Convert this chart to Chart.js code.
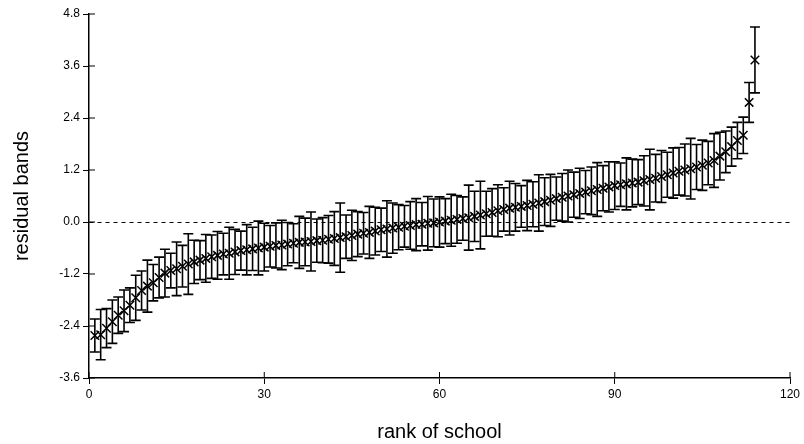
<!DOCTYPE html>
<html>
<head>
<meta charset="utf-8">
<script src="https://cdn.jsdelivr.net/npm/chart.js@4.4.1/dist/chart.umd.min.js"></script>
<style>
  body { margin: 0; background: #fff; }
</style>
</head>
<body>
<canvas id="grafico" width="804" height="444"></canvas>
<script>
// residual estimate per school, ordered by rank
const residuos = [
  -2.62, -2.60, -2.45, -2.30, -2.15, -2.05, -1.92, -1.75, -1.58, -1.48,
  -1.40, -1.28, -1.18, -1.12, -1.08, -1.02, -0.97, -0.92, -0.88, -0.84,
  -0.80, -0.77, -0.74, -0.72, -0.69, -0.66, -0.64, -0.62, -0.60, -0.58,
  -0.56, -0.54, -0.53, -0.51, -0.49, -0.47, -0.46, -0.45, -0.43, -0.42,
  -0.40, -0.38, -0.36, -0.34, -0.31, -0.28, -0.26, -0.24, -0.21, -0.18,
  -0.16, -0.14, -0.12, -0.10, -0.08, -0.06, -0.05, -0.03, -0.02, 0.00,
  0.02, 0.04, 0.06, 0.08, 0.10, 0.13, 0.16, 0.19, 0.22, 0.26,
  0.29, 0.32, 0.34, 0.36, 0.38, 0.41, 0.44, 0.47, 0.50, 0.54,
  0.57, 0.60, 0.63, 0.66, 0.69, 0.72, 0.75, 0.78, 0.81, 0.84,
  0.86, 0.88, 0.90, 0.92, 0.95, 0.98, 1.01, 1.05, 1.09, 1.13,
  1.17, 1.20, 1.23, 1.27, 1.31, 1.36, 1.42, 1.52, 1.62, 1.74,
  1.88, 2.00, 2.76, 3.74
];

// half width of each band
const meiaBanda = [
  0.38, 0.58, 0.45, 0.50, 0.42, 0.48, 0.40, 0.52, 0.45, 0.60,
  0.42, 0.47, 0.55, 0.40, 0.62, 0.48, 0.70, 0.50, 0.45, 0.55,
  0.50, 0.55, 0.48, 0.60, 0.52, 0.45, 0.58, 0.50, 0.62, 0.55,
  0.48, 0.52, 0.57, 0.50, 0.45, 0.60, 0.55, 0.68, 0.50, 0.52,
  0.55, 0.62, 0.80, 0.50, 0.58, 0.52, 0.48, 0.60, 0.55, 0.50,
  0.65, 0.58, 0.52, 0.48, 0.55, 0.60, 0.50, 0.62, 0.55, 0.58,
  0.52, 0.60, 0.55, 0.50, 0.75, 0.58, 0.78, 0.52, 0.55, 0.60,
  0.50, 0.62, 0.55, 0.48, 0.58, 0.52, 0.65, 0.55, 0.60, 0.50,
  0.55, 0.60, 0.52, 0.58, 0.50, 0.55, 0.62, 0.52, 0.58, 0.55,
  0.50, 0.60, 0.55, 0.52, 0.58, 0.70, 0.55, 0.60, 0.52, 0.58,
  0.55, 0.60, 0.70, 0.52, 0.58, 0.50, 0.62, 0.55, 0.48, 0.45,
  0.42, 0.42, 0.46, 0.76
];

const ranks = residuos.map((v, i) => i + 1);
const ticksX = [0, 30, 60, 90, 120];
const ticksY = [-3.6, -2.4, -1.2, 0.0, 1.2, 2.4, 3.6, 4.8];

const pontos = ranks.map((r, i) => ({ x: r, y: residuos[i] }));

//bandas + ticks para dentro
const bandas = {
  id: "bandas",
  afterDatasetsDraw(chart) {
    const ctx = chart.ctx;
    const x = chart.scales.x;
    const y = chart.scales.y;
    ctx.save();
    ctx.strokeStyle = "#000";
    ctx.lineWidth = 1.6;
    ranks.forEach((r, i) => {
      const px = x.getPixelForValue(r);
      const topo = y.getPixelForValue(residuos[i] + meiaBanda[i]);
      const base = y.getPixelForValue(residuos[i] - meiaBanda[i]);
      ctx.beginPath();
      ctx.moveTo(px, topo);
      ctx.lineTo(px, base);
      ctx.moveTo(px - 5, topo);
      ctx.lineTo(px + 5, topo);
      ctx.moveTo(px - 5, base);
      ctx.lineTo(px + 5, base);
      ctx.stroke();
    });
    ctx.lineWidth = 1;
    ticksX.forEach((t) => {
      const px = x.getPixelForValue(t);
      ctx.beginPath();
      ctx.moveTo(px, x.top);
      ctx.lineTo(px, x.top - 6);
      ctx.stroke();
    });
    ticksY.forEach((t) => {
      const py = y.getPixelForValue(t);
      ctx.beginPath();
      ctx.moveTo(y.right, py);
      ctx.lineTo(y.right + 6, py);
      ctx.stroke();
    });
    ctx.restore();
  },
};

const fonte = "'Liberation Sans', Arial, sans-serif";

const grafico = new Chart(document.getElementById("grafico"), {
  type: "scatter",
  data: {
    datasets: [
      {
        label: "residual",
        data: pontos,
        pointStyle: "crossRot",
        pointRadius: 6,
        pointBorderWidth: 1.5,
        borderColor: "#000",
        backgroundColor: "#000",
      },
    ],
  },
  options: {
    responsive: false,
    animation: false,
    devicePixelRatio: 1,
    layout: { padding: { left: 0, right: 14, top: 14, bottom: 0 } },
    plugins: { legend: { display: false }, tooltip: { enabled: false } },
    scales: {
      x: {
        type: "linear",
        min: 0,
        max: 120,
        afterBuildTicks: (s) => { s.ticks = ticksX.map((v) => ({ value: v })); },
        afterFit: (s) => { s.height = 66; },
        ticks: { color: "#000", font: { family: fonte, size: 12 }, padding: 3 },
        grid: { drawOnChartArea: false, tickLength: 6, tickColor: "#000" },
        border: { color: "#000", width: 1.5 },
        title: {
          display: true,
          text: "rank of school",
          color: "#000",
          font: { family: fonte, size: 20 },
          padding: { top: 14, bottom: 0 },
        },
      },
      y: {
        min: -3.6,
        max: 4.8,
        afterBuildTicks: (s) => { s.ticks = ticksY.map((v) => ({ value: v })); },
        afterFit: (s) => { s.width = 89; },
        ticks: {
          color: "#000",
          font: { family: fonte, size: 12 },
          padding: 3,
          callback: (v) => v.toFixed(1),
        },
        grid: {
          drawOnChartArea: true,
          tickLength: 6,
          tickColor: "#000",
          color: (c) => (c.tick && Math.abs(c.tick.value) < 1e-9 ? "#000" : "rgba(0,0,0,0)"),
        },
        border: { color: "#000", width: 1.5, dash: [4, 4] },
        title: {
          display: true,
          text: "residual bands",
          color: "#000",
          font: { family: fonte, size: 20 },
          padding: { top: 10, bottom: 0 },
        },
      },
    },
  },
  plugins: [bandas],
});
</script>
</body>
</html>
